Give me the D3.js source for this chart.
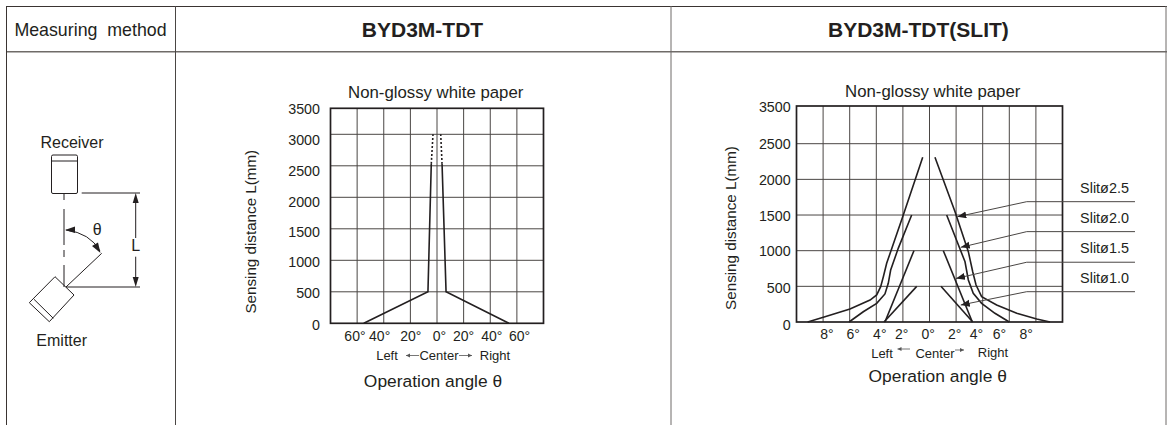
<!DOCTYPE html>
<html>
<head>
<meta charset="utf-8">
<script src="https://cdn.jsdelivr.net/npm/d3@7"></script>
<style>
	html, body { margin: 0; padding: 0; background: #fff; overflow: hidden; }
	text { font-family: "Liberation Sans", Arial, sans-serif; fill: #231f20; }
	.grid { stroke: #4a4644; stroke-width: 1; }
	.curve { fill: none; stroke: #231f20; stroke-width: 1.6; }
	.leader { fill: none; stroke: #4a4644; stroke-width: 1; }
	.draw { fill: none; stroke: #231f20; stroke-width: 1; }
</style>
</head>
<body>
<svg id="page" width="1168" height="425"></svg>
<script>
// table text
const headers = ["Measuring  method", "BYD3M-TDT", "BYD3M-TDT(SLIT)"];
const chartTitle = "Non-glossy white paper";
const yTitle = "Sensing distance L(mm)";
const xTitle = "Operation angle θ";

// left chart: BYD3M-TDT, [angle in degrees, distance in mm]
const wideTicksX = [-60, -40, -20, 0, 20, 40, 60];
const wideTicksY = [0, 500, 1000, 1500, 2000, 2500, 3000, 3500];
const wideGridX = [-60, -40, -20, 0, 20, 40, 60];
const wideLeft = [[-55, 0], [-6.8, 500], [-4.3, 2530]];
const wideLeftDotted = [[-4.3, 2530], [-3, 3000]];
const wideRight = [[54, 0], [6.8, 500], [3.8, 2530]];
const wideRightDotted = [[3.8, 2530], [2.8, 3000]];

// right chart: BYD3M-TDT(SLIT)
const slitTicksX = [-8, -6, -4, -2, 0, 2, 4, 6, 8];
const slitTicksY = [0, 500, 1000, 1500, 2000, 2500, 3500];
const slitGridX = [-8, -6, -4, -2, 0, 2, 4, 6, 8];
const slit25Left = [[-9.16, 0], [-7.86, 74], [-5.98, 182], [-4.47, 308], [-3.97, 379], [-3.67, 495], [-3.47, 635], [-3.22, 823], [-1.97, 1500], [-1.04, 2015], [-0.51, 2309]];
const slit25Right = [[0.41, 2309], [1.92, 1546], [2.92, 986], [3.25, 705], [3.5, 519], [3.92, 355], [5.05, 238], [6.56, 122], [8.06, 42], [9.06, 0]];
const slit20Left = [[-6.05, 0], [-4.98, 144], [-3.97, 262], [-3.35, 393], [-3.1, 543], [-2.92, 729], [-2.35, 1033], [-1.34, 1500]];
const slit20Right = [[1.29, 1500], [2.67, 845], [2.92, 589], [3.29, 402], [3.92, 262], [4.92, 122], [6, 0]];
const slit15Left = [[-3.35, 0], [-1.17, 1000]];
const slit15Right = [[1.04, 1000], [3.22, 0]];
const slit10Left = [[-3.42, 0], [-0.96, 500]];
const slit10Right = [[0.86, 500], [3.25, 0]];
const slitNames = ["Slitø2.5", "Slitø2.0", "Slitø1.5", "Slitø1.0"];
const leaderTipX = [2.09, 2.35, 1.99, 2.35];
const leaderTipY = [1476, 1047, 610, 238];
const leaderElbowY = [1687, 1267, 838, 425];
const leaderElbowX = 7.31;
const leaderEndX = 15.45;

const svg = d3.select("#page");

function drawTable(){
	let g = svg.append("g");
	g.append("line").attr("x1", 6).attr("x2", 1167).attr("y1", 6.5).attr("y2", 6.5)
		.attr("stroke", "#3a3432").attr("stroke-width", 1);
	g.append("line").attr("x1", 6).attr("x2", 1167).attr("y1", 51.7).attr("y2", 51.7)
		.attr("stroke", "#6f6b68").attr("stroke-width", 1.5);
	let verticals = [[6.5, "#3a3432"], [175.5, "#4a4644"], [671, "#6f6b68"], [1166, "#6f6b68"]];
	g.selectAll("line.col")
		.data(verticals)
		.join("line")
		.attr("class", "col")
		.attr("x1", d => d[0])
		.attr("x2", d => d[0])
		.attr("y1", 6)
		.attr("y2", 425)
		.attr("stroke", d => d[1])
		.attr("stroke-width", 1);
	g.append("text").attr("x", 90.5).attr("y", 36).attr("text-anchor", "middle")
		.attr("font-size", 17.8).style("white-space", "pre").text(headers[0]);
	g.append("text").attr("x", 422.5).attr("y", 37).attr("text-anchor", "middle")
		.attr("font-size", 21).attr("font-weight", "bold").text(headers[1]);
	g.append("text").attr("x", 918.4).attr("y", 37).attr("text-anchor", "middle")
		.attr("font-size", 21).attr("font-weight", "bold").text(headers[2]);
}

function drawDiagram(){
	let g = svg.append("g");
	g.append("rect").attr("class", "draw").attr("x", 51.5).attr("y", 155).attr("width", 26).attr("height", 38.5).attr("rx", 1.5);
	let lines = [
		[51.5, 161, 77.5, 161],
		[64, 194, 64, 200], [64, 209, 64, 245], [64, 250, 64, 257], [64, 265, 64, 287],
		[66, 287, 101.7, 253.3], [66, 287, 140, 287], [81.7, 193, 140, 193],
		[135.7, 200, 135.7, 238], [135.7, 256.7, 135.7, 280],
		[34, 299.3, 53.3, 318.3]
	];
	g.selectAll("line.d")
		.data(lines)
		.join("line")
		.attr("class", "draw d")
		.attr("x1", d => d[0]).attr("y1", d => d[1])
		.attr("x2", d => d[2]).attr("y2", d => d[3]);
	g.append("path").attr("class", "draw").attr("stroke-linejoin", "round")
		.attr("d", "M55,276.7 L74,295 L49.3,321.7 L29.3,302.7 Z");
	g.append("path").attr("class", "draw").attr("d", "M66,230 Q90,233 100,251");
	let heads = ["M135.7,193 L132.7,203 L138.7,203 Z", "M135.7,287 L132.7,277 L138.7,277 Z",
		"M65,230 L75,226.5 L75,233 Z", "M100.5,253 L92,246 L98,242.5 Z"];
	g.selectAll("path.head")
		.data(heads)
		.join("path")
		.attr("class", "head")
		.attr("d", d => d)
		.attr("fill", "#231f20");
	let labels = [["Receiver", 72, 147.5, 16], ["Emitter", 61.7, 345.5, 16], ["θ", 97.3, 235, 16], ["L", 135.7, 250.5, 16]];
	g.selectAll("text")
		.data(labels)
		.join("text")
		.attr("x", d => d[1]).attr("y", d => d[2])
		.attr("text-anchor", "middle")
		.attr("font-size", d => d[3])
		.text(d => d[0]);
}

// one framed chart, scales come from the caller
function drawFrame(x, y, gridX, gridY, ticksX, ticksY, nudgeX, nudgeY, labelX, labelY){
	let g = svg.append("g");
	let [left, right] = x.range();
	let bottom = y(0), top = y(3500);

	g.selectAll("line.gx")
		.data(gridX)
		.join("line")
		.attr("class", "grid gx")
		.attr("x1", d => x(d)).attr("x2", d => x(d))
		.attr("y1", top).attr("y2", bottom);
	g.selectAll("line.gy")
		.data(gridY)
		.join("line")
		.attr("class", "grid gy")
		.attr("x1", left).attr("x2", right)
		.attr("y1", d => y(d)).attr("y2", d => y(d));
	g.append("rect")
		.attr("x", left).attr("y", top)
		.attr("width", right - left).attr("height", bottom - top)
		.attr("fill", "none").attr("stroke", "#231f20").attr("stroke-width", 1.7);

	let xAxis = g.append("g")
		.attr("transform", "translate(0," + labelY + ")")
		.call(d3.axisBottom(x).tickValues(ticksX).tickSize(0).tickFormat(d => Math.abs(d) + "°"));
	xAxis.select(".domain").remove();
	xAxis.selectAll("text")
		.attr("y", 0).attr("dy", "0.35em")
		.attr("dx", (d, i) => nudgeX[i]).style("font-size", "14px");

	let yAxis = g.append("g")
		.attr("transform", "translate(" + labelX + ",0)")
		.call(d3.axisLeft(y).tickValues(ticksY).tickSize(0).tickFormat(d3.format("d")));
	yAxis.select(".domain").remove();
	yAxis.selectAll("text")
		.attr("x", 0).attr("dy", "0.35em")
		.attr("transform", (d, i) => "translate(0," + nudgeY[i] + ")")
		.style("font-size", "14.3px");
	return g;
}

function drawCurves(g, x, y, curves, dash){
	let line = d3.line().x(d => x(d[0])).y(d => y(d[1]));
	g.selectAll(null)
		.data(curves)
		.join("path")
		.attr("class", "curve")
		.attr("stroke-dasharray", dash)
		.attr("d", d => line(d));
}

function sideText(g, items){
	g.selectAll(null)
		.data(items)
		.join("text")
		.attr("x", d => d[1]).attr("y", d => d[2])
		.attr("text-anchor", "middle")
		.attr("font-size", d => d[3])
		.text(d => d[0]);
}

function arrowLine(g, x1, x2, y){
	g.append("line").attr("x1", x1).attr("x2", x2).attr("y1", y).attr("y2", y)
		.attr("stroke", "#777").attr("stroke-width", 1);
	let s = x2 > x1 ? 1 : -1;
	g.append("path").attr("fill", "#555")
		.attr("d", "M" + x2 + "," + y + " L" + (x2 - 4 * s) + "," + (y - 2) + " L" + (x2 - 4 * s) + "," + (y + 2) + " Z");
}

function drawWide(){
	let x = d3.scaleLinear().domain([-80, 80]).range([330.5, 543.5]);
	let y = d3.scaleLinear().domain([0, 3000, 3500]).range([323.3, 134.3, 108.3]);
	let g = drawFrame(x, y, wideGridX, [500, 1000, 1500, 2000, 2500, 3000], wideTicksX, wideTicksY,
		[-2.7, -4.6, 0, 2, -0.5, 1, 2.2], [1, 1, 1.3, 2.3, 4, 4.7, 5.5, 0], 320, 336);
	drawCurves(g, x, y, [wideLeft, wideRight], null);
	drawCurves(g, x, y, [wideLeftDotted, wideRightDotted], "2 2");
	sideText(g, [
		[chartTitle, 435.7, 97.5, 16.8],
		["Left", 387, 360, 13], ["Center", 439, 360, 13], ["Right", 495, 360, 13],
		[xTitle, 433, 387, 17.4]
	]);
	arrowLine(g, 419, 406, 355.5);
	arrowLine(g, 459, 472, 355.5);
	g.append("text").attr("transform", "translate(255.5,231.7) rotate(-90)")
		.attr("text-anchor", "middle").attr("font-size", 15.2).text(yTitle);
}

function drawSlit(){
	let x = d3.scaleLinear().domain([-10, 10]).range([796.5, 1062.5]);
	let y = d3.scaleLinear().domain([0, 2500, 3500]).range([322, 143.7, 106]);
	let g = drawFrame(x, y, slitGridX, [500, 1000, 1500, 2000, 2500], slitTicksX, slitTicksY,
		[3.3, 3, 3, -1.7, -1.8, -2, -6.7, -10.3, -10.3], [2, 1, 0, 0.5, 0, 0, 0.5], 790.7, 334);
	drawCurves(g, x, y, [slit25Left, slit25Right, slit20Left, slit20Right, slit15Left, slit15Right, slit10Left, slit10Right], null);

	svg.append("defs").append("marker")
		.attr("id", "tip")
		.attr("markerUnits", "userSpaceOnUse")
		.attr("markerWidth", 10).attr("markerHeight", 8)
		.attr("refX", 9).attr("refY", 3.5)
		.attr("orient", "auto")
		.append("path").attr("d", "M0,0 L9,3.5 L0,7 Z").attr("fill", "#231f20");

	let leader = d3.line().x(d => x(d[0])).y(d => y(d[1]));
	g.selectAll("path.leader")
		.data(slitNames)
		.join("path")
		.attr("class", "leader")
		.attr("marker-end", "url(#tip)")
		.attr("d", (d, i) => leader([[leaderEndX, leaderElbowY[i]], [leaderElbowX, leaderElbowY[i]], [leaderTipX[i], leaderTipY[i]]]));
	g.selectAll("text.slit")
		.data(slitNames)
		.join("text")
		.attr("class", "slit")
		.attr("x", 1104.5)
		.attr("y", (d, i) => y(leaderElbowY[i]) - 9)
		.attr("text-anchor", "middle")
		.attr("font-size", 14.4)
		.text(d => d);

	sideText(g, [
		[chartTitle, 932.7, 96.5, 16.8],
		["Left", 882, 357.5, 13], ["Center", 935, 358, 13], ["Right", 993, 356.5, 13],
		[xTitle, 937.7, 382, 17.4]
	]);
	arrowLine(g, 910, 897.5, 349);
	arrowLine(g, 955, 964, 350);
	g.append("text").attr("transform", "translate(735.5,228) rotate(-90)")
		.attr("text-anchor", "middle").attr("font-size", 15.2).text(yTitle);
}

drawTable();
drawDiagram();
drawWide();
drawSlit();
</script>
</body>
</html>
